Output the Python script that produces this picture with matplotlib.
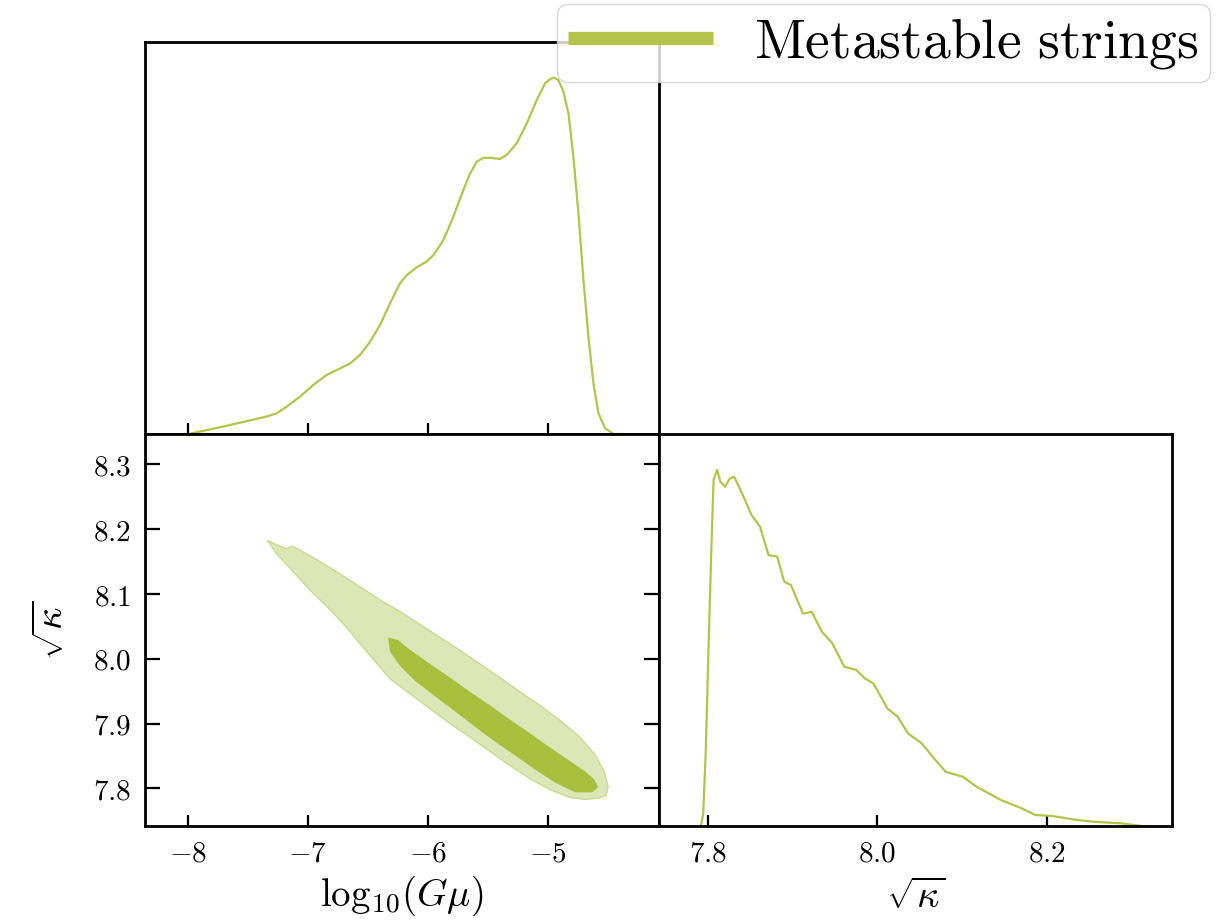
import numpy as np
import matplotlib
matplotlib.use('Agg')
import matplotlib.pyplot as plt
from matplotlib.lines import Line2D
from matplotlib.ticker import FuncFormatter

plt.rcParams['mathtext.fontset'] = 'cm'
plt.rcParams['font.family'] = 'serif'
plt.rcParams['font.serif'] = ['DejaVu Serif']

# 1D posterior of log10(G mu), normalised to peak 1
gmu_x = [-7.995, -7.703, -7.342, -7.259, -7.175, -7.064, -6.953, -6.842, -6.731, -6.648,
         -6.564, -6.481, -6.398, -6.314, -6.231, -6.175, -6.092, -6.009, -5.953, -5.870,
         -5.787, -5.703, -5.648, -5.592, -5.537, -5.481, -5.398, -5.342, -5.259, -5.175,
         -5.092, -5.023, -4.981, -4.948, -4.912, -4.870, -4.828, -4.787, -4.745, -4.703,
         -4.662, -4.620, -4.578, -4.523, -4.453, -4.398]
gmu_p = [0.0, 0.021, 0.049, 0.058, 0.077, 0.105, 0.138, 0.166, 0.184, 0.198,
         0.222, 0.259, 0.306, 0.367, 0.423, 0.446, 0.468, 0.484, 0.502, 0.544,
         0.610, 0.685, 0.731, 0.764, 0.775, 0.775, 0.772, 0.783, 0.816, 0.872,
         0.937, 0.984, 0.996, 1.0, 0.993, 0.961, 0.900, 0.778, 0.619, 0.432,
         0.273, 0.142, 0.058, 0.016, 0.0, 0.0]

# 1D posterior of sqrt(kappa)
kap_x = [7.7919, 7.7947, 7.7976, 7.8008, 7.8041, 7.8069, 7.8109, 7.8150, 7.8203, 7.8260,
         7.8312, 7.8413, 7.8515, 7.8616, 7.8717, 7.8819, 7.8900, 7.8981, 7.9123, 7.9224,
         7.9346, 7.9467, 7.9609, 7.9751, 7.9852, 7.9953, 8.0116, 8.0237, 8.0359, 8.0521,
         8.0683, 8.0805, 8.1007, 8.1169, 8.1453, 8.1696, 8.1858, 8.2061, 8.2345, 8.2547,
         8.2872, 8.3115]
kap_p = [0.0, 0.036, 0.204, 0.485, 0.765, 0.971, 0.999, 0.966, 0.952, 0.975,
         0.980, 0.929, 0.873, 0.840, 0.760, 0.756, 0.686, 0.676, 0.596, 0.601,
         0.545, 0.513, 0.447, 0.438, 0.414, 0.400, 0.330, 0.307, 0.260, 0.232,
         0.185, 0.152, 0.138, 0.110, 0.073, 0.050, 0.031, 0.028, 0.017, 0.012,
         0.0075, 0.0]

# 2D credible regions (outer and inner)
outer_x = [-7.331, -7.231, -7.181, -7.131, -7.064, -6.898, -6.731, -6.564, -6.398, -6.231,
           -6.064, -5.898, -5.731, -5.564, -5.398, -5.231, -5.064, -4.898, -4.731, -4.606,
           -4.531, -4.498, -4.514, -4.581, -4.689, -4.814, -4.981, -5.148, -5.314, -5.481,
           -5.648, -5.814, -5.981, -6.148, -6.314, -6.439, -6.564, -6.689, -6.814, -6.981,
           -7.148, -7.264]
outer_y = [8.182, 8.174, 8.170, 8.174, 8.168, 8.150, 8.131, 8.111, 8.091, 8.073,
           8.053, 8.033, 8.013, 7.992, 7.971, 7.949, 7.928, 7.905, 7.879, 7.852,
           7.826, 7.803, 7.789, 7.785, 7.783, 7.786, 7.798, 7.815, 7.835, 7.857,
           7.879, 7.900, 7.923, 7.946, 7.969, 7.996, 8.023, 8.051, 8.076, 8.106,
           8.140, 8.163]
inner_x = [-6.331, -6.248, -6.148, -5.981, -5.814, -5.648, -5.481, -5.314, -5.148, -4.981,
           -4.814, -4.689, -4.614, -4.581, -4.631, -4.773, -4.939, -5.106, -5.273, -5.439,
           -5.606, -5.773, -5.939, -6.106, -6.231, -6.314]
inner_y = [8.033, 8.029, 8.014, 7.992, 7.971, 7.949, 7.928, 7.906, 7.885, 7.863,
           7.842, 7.826, 7.814, 7.802, 7.794, 7.794, 7.809, 7.829, 7.851, 7.872,
           7.895, 7.919, 7.942, 7.966, 7.989, 8.011]

gmu_ticks = [-8, -7, -6, -5]
kap_ticks = [7.8, 7.9, 8.0, 8.1, 8.2, 8.3]
kap_ticks_diag = [7.8, 8.0, 8.2]
gmu_lim = (-8.356, -4.078)
kap_lim = (7.742, 8.347)

color = '#b3c44a'
light = '#dde6b7'
dark = '#aabf3e'

fig = plt.figure(figsize=(12.18, 9.21), dpi=100)
gs = fig.add_gridspec(2, 2, left=145/1218, right=1172/1218, top=1-42/921,
                      bottom=1-826/921, wspace=0, hspace=0)
ax_top = fig.add_subplot(gs[0, 0])
ax_2d = fig.add_subplot(gs[1, 0])
ax_k = fig.add_subplot(gs[1, 1])

fmt0 = FuncFormatter(lambda v, p: '$%d$' % round(v))
fmt1 = FuncFormatter(lambda v, p: '$%.1f$' % v)

for ax in (ax_top, ax_2d, ax_k):
    for s in ax.spines.values():
        s.set_linewidth(2.0)

# top: log10(G mu) marginal
ax_top.plot(gmu_x, gmu_p, color=color, lw=1.6)
ax_top.set_xlim(gmu_lim)
ax_top.set_ylim(0, 1.1)
ax_top.set_yticks([])
ax_top.set_xticks(gmu_ticks)
ax_top.tick_params(axis='x', direction='inout', length=15.5, width=1.6,
                   labelbottom=False)

# 2D contours
ax_2d.fill(outer_x, outer_y, color=light, lw=0)
ax_2d.plot(outer_x + outer_x[:1], outer_y + outer_y[:1], color='#ccd98f', lw=1.0)
ax_2d.fill(inner_x, inner_y, color=dark, lw=0)
ax_2d.set_xlim(gmu_lim)
ax_2d.set_ylim(kap_lim)
ax_2d.set_xticks(gmu_ticks)
ax_2d.set_yticks(kap_ticks)
ax_2d.xaxis.set_major_formatter(fmt0)
ax_2d.yaxis.set_major_formatter(fmt1)
ax_2d.tick_params(axis='x', direction='in', length=7.7, width=1.6, labelsize=21, pad=10)
ax_2d.tick_params(axis='y', direction='in', length=10.5, width=1.6, labelsize=21,
                  right=True, pad=10)
ax_2d.set_xlabel(r'$\mathrm{log}_{10}(G\mu)$', fontsize=28, labelpad=4)
ax_2d.set_ylabel(r'$\sqrt{\kappa}$', fontsize=28, labelpad=16)

# sqrt(kappa) marginal
ax_k.plot(kap_x, kap_p, color=color, lw=1.6)
ax_k.set_xlim(kap_lim)
ax_k.set_ylim(0, 1.1)
ax_k.set_yticks([])
ax_k.set_xticks(kap_ticks_diag)
ax_k.xaxis.set_major_formatter(fmt1)
ax_k.tick_params(axis='x', direction='in', length=7.7, width=1.6, labelsize=21, pad=10)
ax_k.set_xlabel(r'$\sqrt{\kappa}$', fontsize=28, labelpad=8)

handle = Line2D([], [], color=color, lw=9.5, solid_capstyle='butt')
fig.legend([handle], [r'$\mathrm{Metastable\ strings}$'], loc='upper right',
           bbox_to_anchor=(1210/1218, 1-4/921), fontsize=40, fancybox=True,
           framealpha=0.8, edgecolor='#cccccc', handlelength=2.6,
           handletextpad=0.75, borderpad=0.2, borderaxespad=0)

fig.savefig('out.png', dpi=100)
